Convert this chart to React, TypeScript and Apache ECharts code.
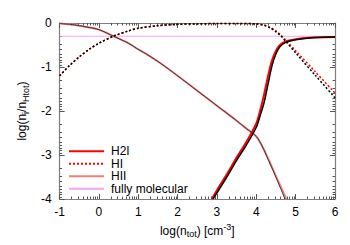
import React, { useEffect, useRef } from "react";
import * as echarts from "echarts";

// Model A (red) and model B (black) abundances, log(n_i/n_Htot) vs log(n_tot)
const h2Red: number[][] = [
  [2.87, -4.0], [3.0, -3.8], [3.25, -3.44], [3.5, -3.06], [3.75, -2.7], [4.0, -2.28],
  [4.1, -1.98], [4.2, -1.62], [4.3, -1.2], [4.4, -0.85], [4.5, -0.63], [4.6, -0.5],
  [4.75, -0.42], [5.0, -0.37], [5.25, -0.34], [5.5, -0.33], [6.0, -0.32],
];
const h2Black: number[][] = [
  [2.9, -4.0], [3.0, -3.86], [3.25, -3.5], [3.5, -3.12], [3.75, -2.77], [4.0, -2.37],
  [4.1, -2.1], [4.2, -1.8], [4.3, -1.38], [4.4, -0.97], [4.5, -0.7], [4.6, -0.54],
  [4.75, -0.44], [5.0, -0.38], [5.25, -0.35], [5.5, -0.33], [6.0, -0.32],
];
const hiRed: number[][] = [
  [-1, -1.2], [-0.75, -0.97], [-0.5, -0.77], [-0.25, -0.6], [0, -0.46], [0.37, -0.3],
  [0.75, -0.18], [1, -0.12], [1.5, -0.06], [2, -0.03], [2.5, -0.02], [3, -0.01],
  [3.5, -0.01], [4, -0.02], [4.2, -0.05], [4.35, -0.1], [4.5, -0.18], [4.62, -0.27],
  [4.75, -0.39], [5, -0.63], [5.5, -1.11], [6, -1.59],
];
const hiBlack: number[][] = [
  [-1, -1.2], [-0.75, -0.97], [-0.5, -0.77], [-0.25, -0.6], [0, -0.46], [0.37, -0.3],
  [0.75, -0.18], [1, -0.12], [1.5, -0.06], [2, -0.03], [2.5, -0.02], [3, -0.01],
  [3.5, -0.01], [4, -0.02], [4.2, -0.05], [4.35, -0.11], [4.5, -0.2], [4.62, -0.29],
  [4.75, -0.42], [5, -0.68], [5.5, -1.19], [6, -1.7],
];
const hiiRed: number[][] = [
  [-1, -0.01], [-0.75, -0.03], [-0.5, -0.06], [-0.25, -0.1], [0, -0.15], [0.37, -0.3],
  [0.75, -0.46], [1, -0.6], [1.25, -0.73], [1.575, -0.92], [2, -1.2], [2.5, -1.54],
  [3, -1.88], [3.5, -2.22], [3.75, -2.4], [4, -2.58], [4.15, -2.8], [4.3, -3.08],
  [4.45, -3.38], [4.6, -3.68], [4.76, -4.0],
];
const hiiBlack: number[][] = [
  [-1, -0.01], [-0.75, -0.03], [-0.5, -0.06], [-0.25, -0.1], [0, -0.15], [0.37, -0.3],
  [0.75, -0.46], [1, -0.6], [1.25, -0.73], [1.575, -0.92], [2, -1.2], [2.5, -1.54],
  [3, -1.88], [3.5, -2.22], [3.75, -2.4], [4, -2.58], [4.15, -2.8], [4.3, -3.1],
  [4.45, -3.4], [4.6, -3.72], [4.73, -4.0],
];
const fullyMolecular: number[][] = [[-1, -0.301], [6, -0.301]];

const legendNames = ["H2I", "HI", "HII", "fully molecular"];
const xMajor = [-1, 0, 1, 2, 3, 4, 5, 6];
const yMajor = [-4, -3, -2, -1, 0];

const xMinor: number[] = [];
for (let d = -1; d < 6; d++) for (let k = 2; k <= 9; k++) xMinor.push(d + Math.log10(k));
const yMinor: number[] = [];
for (let m = 0; m < 4; m++) for (let k = 2; k <= 9; k++) yMinor.push(-(m + Math.log10(k)));

const FONT = "Liberation Sans";
const GRAY = "#7f7f7f";

export default function App() {
  const ref = useRef<HTMLDivElement>(null);
  useEffect(() => {
    if (!ref.current) return;
    const chart = echarts.init(ref.current, undefined, { renderer: "svg" });
    const base = (pos: string, major: boolean, isX: boolean) => ({
      type: "value",
      position: pos,
      min: isX ? xMajor[0] : yMajor[0],
      max: isX ? xMajor[xMajor.length - 1] : yMajor[yMajor.length - 1],
      interval: 1,
      splitLine: { show: false },
      axisLine: { show: major, onZero: false, lineStyle: { color: GRAY, width: 1.2 } },
      axisTick: major
        ? { show: true, inside: true, length: 5, lineStyle: { color: "#555", width: 1 } }
        : {
            show: true,
            inside: true,
            length: 2.5,
            customValues: isX ? xMinor : yMinor,
            lineStyle: { color: "#555", width: 1 },
          },
      axisLabel: { show: false },
    });
    const xBottom: any = base("bottom", true, true);
    xBottom.axisLabel = { show: true, color: "#000", fontFamily: FONT, fontSize: 12, margin: 7 };
    xBottom.name = "log(n{sub|tot}) [cm{sup|-3}]";
    xBottom.nameLocation = "middle";
    xBottom.nameGap = 21;
    xBottom.nameTextStyle = {
      color: "#000",
      fontFamily: FONT,
      fontSize: 12,
      rich: {
        sub: { fontSize: 9, fontFamily: FONT, color: "#000", padding: [7, 0, 0, 0] },
        sup: { fontSize: 9, fontFamily: FONT, color: "#000", padding: [0, 0, 7, 0] },
      },
    };
    const yLeft: any = base("left", true, false);
    yLeft.axisLabel = { show: true, color: "#000", fontFamily: FONT, fontSize: 12, margin: 8 };
    yLeft.name = "log(n{sub|i}/n{sub|Htot})";
    yLeft.nameLocation = "middle";
    yLeft.nameGap = 28;
    yLeft.nameTextStyle = {
      color: "#000",
      fontFamily: FONT,
      fontSize: 12,
      rich: {
        sub: { fontSize: 9, fontFamily: FONT, color: "#000", padding: [7, 0, 0, 0] },
      },
    };

    const line = (name: string, data: number[][], color: string, width: number, type: any, z = 2) => ({
      name,
      type: "line",
      data,
      xAxisIndex: 0,
      yAxisIndex: 0,
      symbol: "none",
      smooth: 0.3,
      z,
      lineStyle: { color, width, type },
      itemStyle: { color },
    });

    chart.setOption({
      animation: false,
      grid: { left: 47, right: 23, top: 15, bottom: 54 },
      xAxis: [xBottom, base("top", true, true), base("bottom", false, true), base("top", false, true)],
      yAxis: [yLeft, base("right", true, false), base("left", false, false), base("right", false, false)],
      legend: {
        data: legendNames,
        orient: "vertical",
        left: 60,
        top: 137,
        padding: 0,
        itemWidth: 35,
        itemHeight: 10,
        itemGap: 0,
        itemStyle: { opacity: 0 },
        textStyle: { fontFamily: FONT, fontSize: 12, color: "#000", lineHeight: 12.5, padding: [0, 0, 0, 2] },
      },
      series: [
        line("fully molecular", fullyMolecular, "#f2a6f2", 1, "solid", 1),
        line("HII", hiiRed, "#f08080", 2, "solid", 2),
        line("H2I", h2Red, "#ff0000", 2, "solid", 2),
        line("HI", hiRed, "#ff0000", 1.5, [2, 2], 2),
        line("HIIb", hiiBlack, "#4a3030", 1, "solid", 3),
        line("H2Ib", h2Black, "#000000", 1.5, "solid", 3),
        line("HIb", hiBlack, "#000000", 1.5, [2, 2], 3),
      ],
    });
    return () => chart.dispose();
  }, []);
  return <div ref={ref} style={{ width: 350, height: 245 }} />;
}
